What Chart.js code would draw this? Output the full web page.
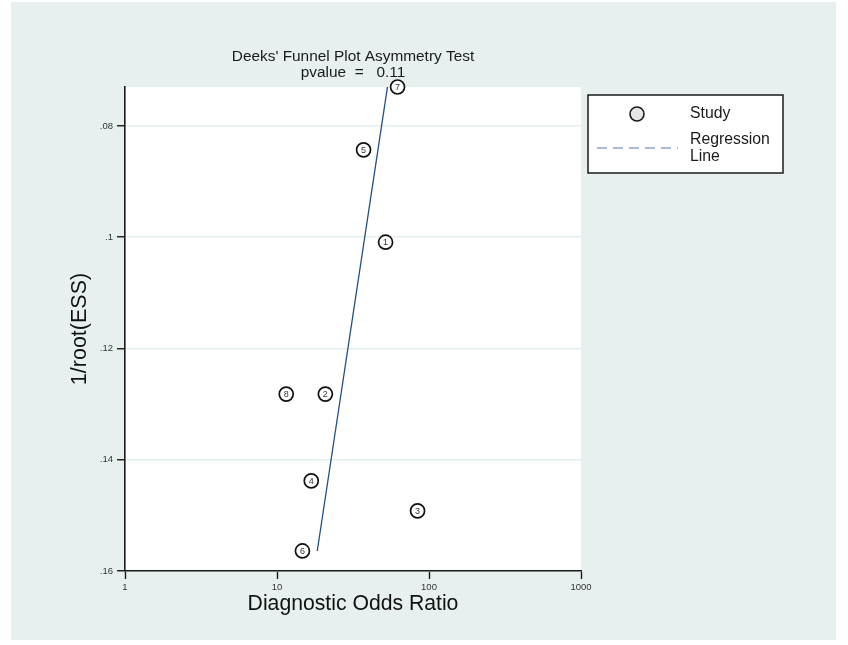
<!DOCTYPE html>
<html>
<head>
<meta charset="utf-8">
<script src="https://cdn.jsdelivr.net/npm/chart.js@4"></script>
<style>
  html, body { margin: 0; padding: 0; background: #ffffff; }
  #wrap { width: 848px; height: 645px; }
</style>
</head>
<body>
<div id="wrap"><canvas id="deeksChart" width="848" height="645"></canvas></div>
<script>
// study data (diagnostic odds ratio vs 1/root(ESS))
const studyIds = ["1", "2", "3", "4", "5", "6", "7", "8"];
const studyDOR = [51.8, 20.8, 84.1, 16.8, 37.1, 14.7, 62.1, 11.5];
const studyESS = [0.1009, 0.1282, 0.1492, 0.1438, 0.0843, 0.1564, 0.0730, 0.1282];

// fitted regression line end points
const regLineDOR = [18.4, 53.3];
const regLineESS = [0.1564, 0.0730];

const xTicks = [1, 10, 100, 1000];
const yTicks = [0.08, 0.1, 0.12, 0.14, 0.16];

const titleLines = ["Deeks' Funnel Plot Asymmetry Test", "pvalue  =   0.11"];
const FONT = "'Liberation Sans', Arial, sans-serif";

// background panels + title + legend
const decorPlugin = {
    id: "decor",
    beforeDraw(chart) {
        const ctx = chart.ctx;
        const a = chart.chartArea;
        ctx.save();
        ctx.fillStyle = "#e8f0ef";
        ctx.fillRect(11, 2, 825, 638);
        ctx.fillStyle = "#ffffff";
        ctx.fillRect(a.left, a.top, a.right - a.left, a.bottom - a.top);
        ctx.restore();
    },
    afterDraw(chart) {
        const ctx = chart.ctx;
        const a = chart.chartArea;
        ctx.save();
        // title
        ctx.fillStyle = "#1a1a1a";
        ctx.font = "15.4px " + FONT;
        ctx.textAlign = "center";
        ctx.textBaseline = "middle";
        const cx = (a.left + a.right) / 2;
        ctx.fillText(titleLines[0], cx, 57);
        ctx.fillText(titleLines[1], cx, 73);

        // legend box
        ctx.strokeStyle = "#1a1a1a";
        ctx.lineWidth = 1.5;
        ctx.fillStyle = "#ffffff";
        ctx.fillRect(588, 95, 195, 78);
        ctx.strokeRect(588, 95, 195, 78);

        ctx.beginPath();
        ctx.arc(637, 114, 7, 0, Math.PI * 2);
        ctx.fillStyle = "#e6e6e6";
        ctx.fill();
        ctx.lineWidth = 1.6;
        ctx.stroke();

        ctx.beginPath();
        ctx.setLineDash([10, 6]);
        ctx.strokeStyle = "#8aa6c4";
        ctx.lineWidth = 1.3;
        ctx.moveTo(597, 148);
        ctx.lineTo(678, 148);
        ctx.stroke();
        ctx.setLineDash([]);

        ctx.fillStyle = "#1a1a1a";
        ctx.textAlign = "left";
        ctx.font = "15.8px " + FONT;
        ctx.fillText("Study", 690, 114);
        ctx.fillText("Regression", 690, 140);
        ctx.fillText("Line", 690, 157);

        // study numbers inside the markers
        const meta = chart.getDatasetMeta(1);
        ctx.font = "9px " + FONT;
        ctx.textAlign = "center";
        ctx.fillStyle = "#333";
        meta.data.forEach((pt, i) => {
            ctx.fillText(studyIds[i], pt.x, pt.y + 0.5);
        });
        ctx.restore();
    }
};

const ctx = document.getElementById("deeksChart").getContext("2d");
new Chart(ctx, {
    type: "scatter",
    data: {
        datasets: [
            {
                type: "line",
                label: "Regression Line",
                data: regLineDOR.map((x, i) => ({ x: x, y: regLineESS[i] })),
                borderColor: "#1f4f80",
                borderWidth: 1.3,
                pointRadius: 0,
                fill: false
            },
            {
                label: "Study",
                data: studyDOR.map((x, i) => ({ x: x, y: studyESS[i] })),
                pointRadius: 7,
                pointBackgroundColor: "#ffffff",
                pointBorderColor: "#111",
                pointBorderWidth: 1.7,
                clip: false
            }
        ]
    },
    options: {
        responsive: false,
        animation: false,
        layout: { padding: { top: 87, right: 267, bottom: 0, left: 0 } },
        plugins: {
            legend: { display: false },
            title: { display: false },
            tooltip: { enabled: false }
        },
        scales: {
            x: {
                type: "logarithmic",
                min: 1,
                max: 1000,
                afterBuildTicks: scale => { scale.ticks = xTicks.map(v => ({ value: v })); },
                afterFit: scale => { scale.height = 74; },
                ticks: {
                    callback: v => String(v),
                    font: { family: FONT, size: 9.5 },
                    color: "#333",
                    padding: 3,
                    maxRotation: 0
                },
                grid: { drawOnChartArea: false, tickLength: 8, tickColor: "#1a1a1a", tickWidth: 1.4 },
                border: { color: "#1a1a1a", width: 1.6 },
                title: {
                    display: true,
                    text: "Diagnostic Odds Ratio",
                    font: { family: FONT, size: 21.2 },
                    color: "#111",
                    padding: { top: 0, bottom: 28 }
                }
            },
            y: {
                reverse: true,
                min: 0.073,
                max: 0.16,
                afterBuildTicks: scale => { scale.ticks = yTicks.map(v => ({ value: v })); },
                afterFit: scale => { scale.width = 125; },
                ticks: {
                    callback: v => String(Math.round(v * 100) / 100).replace(/^0/, ""),
                    font: { family: FONT, size: 9.5 },
                    color: "#333",
                    padding: 4
                },
                grid: { color: "#e4eeed", lineWidth: 1.5, tickLength: 8, tickColor: "#1a1a1a", tickWidth: 1.4 },
                border: { color: "#1a1a1a", width: 1.6 },
                title: {
                    display: true,
                    text: "1/root(ESS)",
                    font: { family: FONT, size: 21.5 },
                    color: "#111",
                    padding: { top: 67, bottom: 0 }
                }
            }
        }
    },
    plugins: [decorPlugin]
});
</script>
</body>
</html>
